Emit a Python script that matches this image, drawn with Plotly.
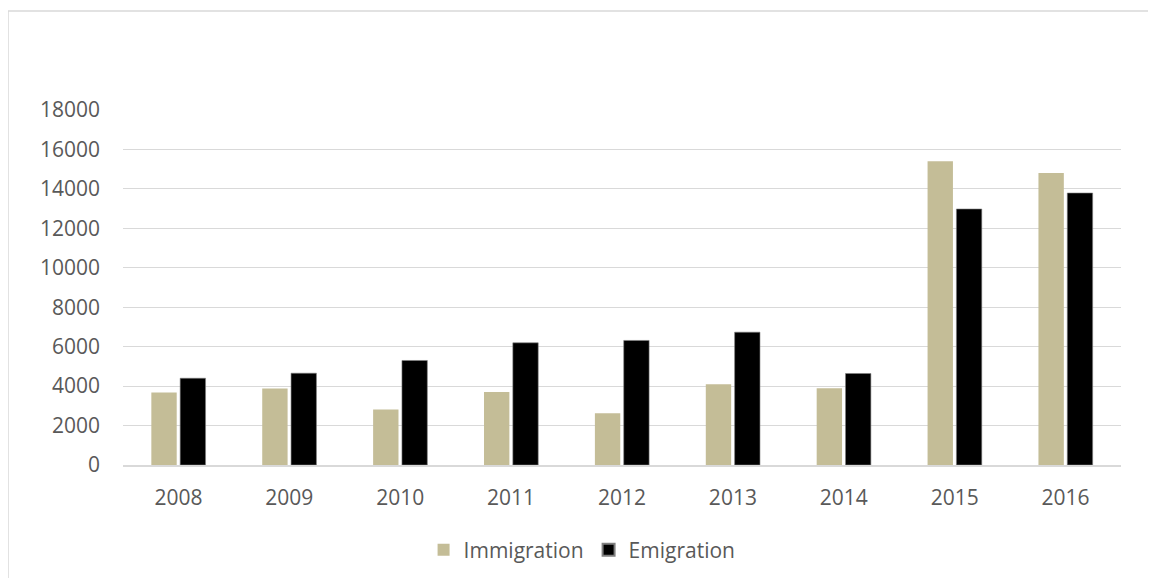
import plotly.graph_objects as go

years = ["2008", "2009", "2010", "2011", "2012", "2013", "2014", "2015", "2016"]
immigration = [3680, 3880, 2810, 3705, 2625, 4095, 3895, 15400, 14810]
emigration = [4400, 4655, 5300, 6195, 6315, 6735, 4640, 12980, 13790]
y_ticks = [0, 2000, 4000, 6000, 8000, 10000, 12000, 14000, 16000, 18000]

FONT = "Open Sans"
TXT = "#595959"

W, H = 1148, 570
L, R, T, B = 115, 35, 102, 113
pw = W - L - R
ph = H - T - B

fig = go.Figure()
fig.add_trace(go.Bar(x=years, y=immigration, name="Immigration",
                     marker=dict(color="#c4bd97", line=dict(width=0))))
fig.add_trace(go.Bar(x=years, y=emigration, name="Emigration",
                     marker=dict(color="#000000", line=dict(color="#7f7f7f", width=0.6))))

fig.update_layout(
    width=W, height=H,
    margin=dict(l=L, r=R, t=T, b=B, autoexpand=False),
    paper_bgcolor="white", plot_bgcolor="white",
    barmode="group", bargap=0.48, bargroupgap=0.12,
    font=dict(family=FONT, size=21, color=TXT),
    showlegend=True,
    legend=dict(orientation="h", x=0.460, xanchor="center", y=-0.240, yanchor="middle",
                font=dict(family=FONT, size=21, color=TXT), itemsizing="constant",
                traceorder="normal"),
    yaxis=dict(range=[0, 18000], tickvals=y_ticks, ticktext=[str(v) for v in y_ticks],
               showgrid=True, gridcolor="#d9d9d9", gridwidth=1.3, zeroline=False,
               showline=False, ticks="", ticklabelstandoff=22, automargin=False,
               tickfont=dict(family=FONT, size=21, color=TXT)),
    xaxis=dict(showgrid=False, showline=True, linecolor="#d9d9d9", linewidth=1.5,
               ticks="", ticklabelstandoff=13, automargin=False,
               tickfont=dict(family=FONT, size=21, color=TXT)),
    shapes=[
        dict(type="line", xref="paper", yref="paper", x0=-L / pw, x1=1.1,
             y0=(ph + T - 3) / ph, y1=(ph + T - 3) / ph,
             line=dict(color="#d9d9d9", width=1.5)),
        dict(type="line", xref="paper", yref="paper", x0=-L / pw, x1=-L / pw,
             y0=(ph + T - 3) / ph, y1=-0.4,
             line=dict(color="#d9d9d9", width=1.5)),
    ],
)

fig.write_html("out.html")
